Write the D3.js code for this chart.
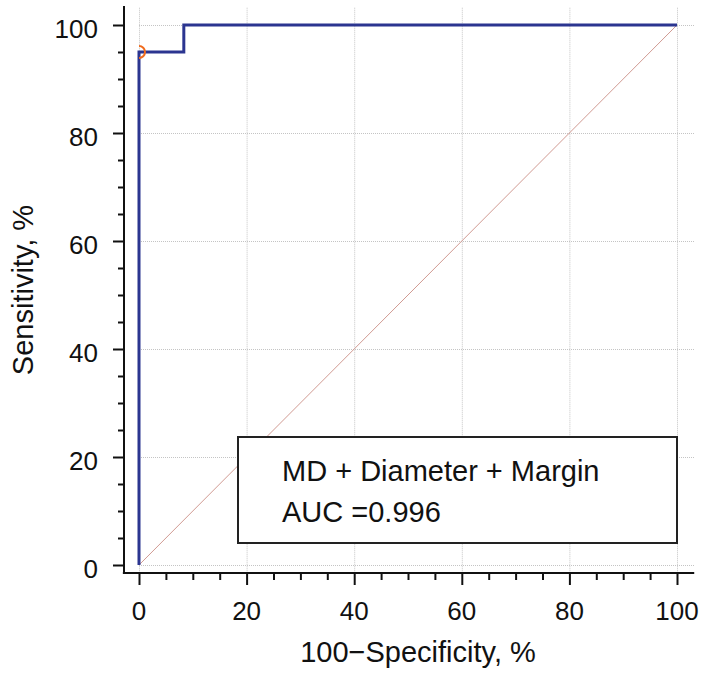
<!DOCTYPE html>
<html>
<head>
<meta charset="utf-8">
<script src="https://cdn.jsdelivr.net/npm/d3@7"></script>
<style>
  body { margin: 0; background: #fff; }
  text { font-family: "Liberation Sans", Arial, sans-serif; fill: #111; }
</style>
</head>
<body>
<div id="chart"></div>
<script>
// ROC curve points (100-specificity, sensitivity)
var fpr = [0, 0, 8.33, 8.33, 100];
var tpr = [0, 95, 95, 100, 100];
var cutoff = [0, 95];
var majorTicks = [0, 20, 40, 60, 80, 100];
var legendLines = ["MD + Diameter + Margin", "AUC =0.996"];

var W = 706, H = 673;

var svg = d3.select("#chart").append("svg")
    .attr("width", W)
    .attr("height", H);

var x = d3.scaleLinear().domain([0, 100]).range([139, 677]);
var y = d3.scaleLinear().domain([0, 100]).range([565, 25]);

var axisY = 573, axisX = 124;

// clip for the data area
svg.append("clipPath").attr("id", "plotClip")
    .append("rect")
    .attr("x", x(0)).attr("y", 0)
    .attr("width", x(103.2) - x(0)).attr("height", axisY);

// grid
var grid = svg.append("g").attr("class", "grid")
    .style("stroke", "#c4c4c4").style("stroke-width", 1)
    .style("stroke-dasharray", "1,1");
grid.selectAll(".vg").data(majorTicks).enter().append("line")
    .attr("x1", function(d) { return x(d) + 0.5; })
    .attr("x2", function(d) { return x(d) + 0.5; })
    .attr("y1", y(103.2)).attr("y2", axisY);
grid.selectAll(".hg").data(majorTicks).enter().append("line")
    .attr("y1", function(d) { return y(d) + 0.5; })
    .attr("y2", function(d) { return y(d) + 0.5; })
    .attr("x1", x(0)).attr("x2", x(103.2));

// bottom axis
var xAxis = svg.append("g")
    .attr("transform", "translate(0," + axisY + ")")
    .call(d3.axisBottom(x).tickValues(d3.range(0, 101, 5)).tickSize(7).tickFormat(""));
xAxis.select(".domain").remove();
xAxis.selectAll(".tick line").attr("stroke", "#111").attr("stroke-width", 2)
    .filter(function(d) { return d % 20 === 0; }).attr("y2", 12);
xAxis.append("line")
    .attr("x1", x(-3)).attr("x2", x(103.2))
    .attr("stroke", "#111").attr("stroke-width", 2);
svg.selectAll(".xlab").data(majorTicks).enter().append("text")
    .attr("x", function(d) { return x(d); })
    .attr("y", 620)
    .attr("text-anchor", "middle")
    .style("font-size", "26px")
    .text(function(d) { return d; });

// left axis
var yAxis = svg.append("g")
    .attr("transform", "translate(" + axisX + ",0)")
    .call(d3.axisLeft(y).tickValues(d3.range(0, 101, 5)).tickSize(6).tickFormat(""));
yAxis.select(".domain").remove();
yAxis.selectAll(".tick line").attr("stroke", "#111").attr("stroke-width", 2)
    .filter(function(d) { return d % 20 === 0; }).attr("x2", -11);
yAxis.append("line")
    .attr("y1", y(-1.5)).attr("y2", y(103.5))
    .attr("stroke", "#111").attr("stroke-width", 2);
svg.selectAll(".ylab").data(majorTicks).enter().append("text")
    .attr("x", 98)
    .attr("y", function(d) { return y(d); })
    .attr("dy", "0.5em")
    .attr("text-anchor", "end")
    .style("font-size", "26px")
    .text(function(d) { return d; });

// axis titles
svg.append("text")
    .attr("x", 418).attr("y", 662)
    .attr("text-anchor", "middle")
    .style("font-size", "29px")
    .text("100\u2212Specificity, %");
svg.append("text")
    .attr("transform", "translate(33," + 290 + ") rotate(-90)")
    .attr("text-anchor", "middle")
    .style("font-size", "29px")
    .text("Sensitivity, %");

// diagonal reference line
svg.append("line")
    .attr("x1", x(0)).attr("y1", y(0))
    .attr("x2", x(100)).attr("y2", y(100))
    .attr("stroke", "#d09a92").attr("stroke-width", 1);

// ROC curve
var line = d3.line()
    .x(function(d) { return x(d[0]); })
    .y(function(d) { return y(d[1]); });
svg.append("path")
    .datum(d3.zip(fpr, tpr))
    .attr("d", line)
    .attr("fill", "none")
    .attr("stroke", "#2b3590")
    .attr("stroke-width", 3);

// optimal cutoff marker
svg.append("circle")
    .attr("clip-path", "url(#plotClip)")
    .attr("cx", x(cutoff[0])).attr("cy", y(cutoff[1]))
    .attr("r", 6)
    .attr("fill", "none")
    .attr("stroke", "#f06a1c")
    .attr("stroke-width", 2);

// legend box
var lg = svg.append("g");
lg.append("rect")
    .attr("x", 238).attr("y", 437)
    .attr("width", 439).attr("height", 106)
    .attr("fill", "#fff")
    .attr("stroke", "#222").attr("stroke-width", 2);
lg.selectAll("text").data(legendLines).enter().append("text")
    .attr("x", 282)
    .attr("y", function(d, i) { return 481 + i * 41; })
    .style("font-size", "29px")
    .text(function(d) { return d; });
</script>
</body>
</html>
